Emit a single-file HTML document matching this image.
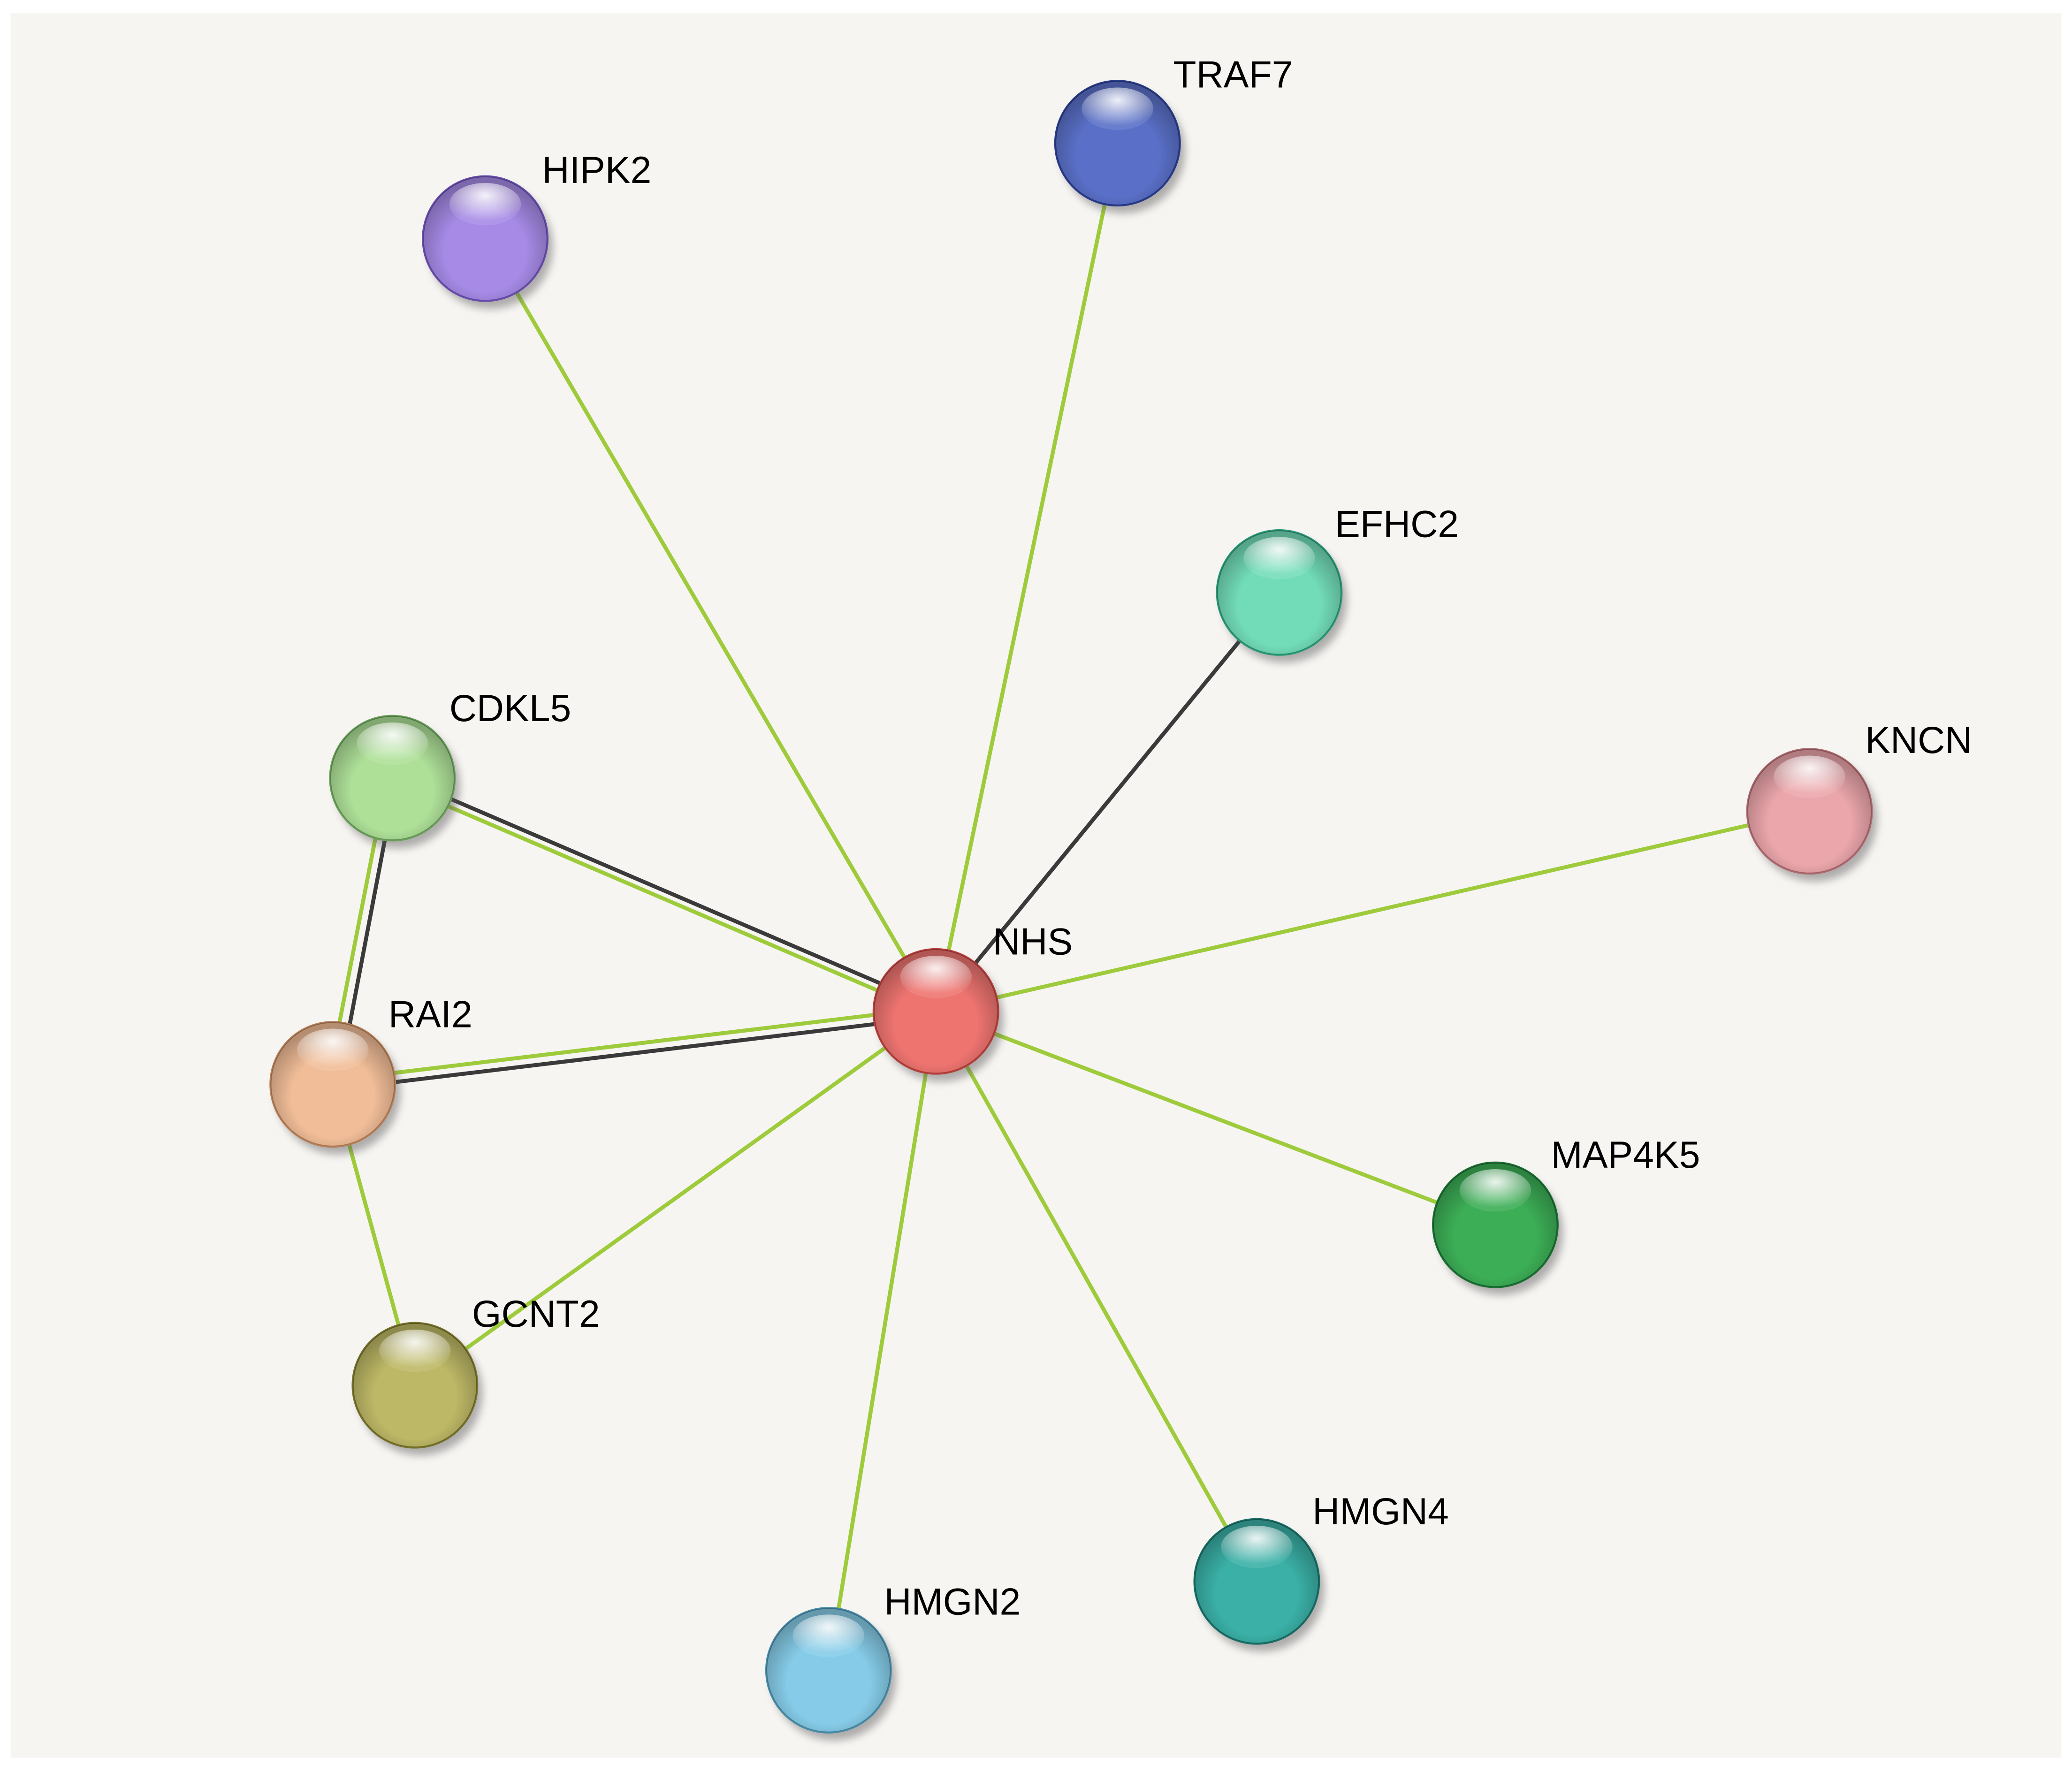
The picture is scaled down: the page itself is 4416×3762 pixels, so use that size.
<!DOCTYPE html>
<html><head><meta charset="utf-8"><style>
html,body{margin:0;padding:0;background:#fff;}
svg{display:block;}
text{font-family:"Liberation Sans",sans-serif;font-size:28.5px;fill:#000;}
</style></head><body>
<svg width="4416" height="3762" viewBox="0 0 1563 1331.5" preserveAspectRatio="none" xmlns="http://www.w3.org/2000/svg">
<defs>
<radialGradient id="hl" cx="50%" cy="30%" r="60%"><stop offset="0" stop-color="#fff" stop-opacity="0.9"/><stop offset="1" stop-color="#fff" stop-opacity="0.1"/></radialGradient>
<radialGradient id="dk" cx="50%" cy="60%" r="55%"><stop offset="0.6" stop-color="#000" stop-opacity="0"/><stop offset="1" stop-color="#000" stop-opacity="0.25"/></radialGradient>
<filter id="sh" x="-30%" y="-30%" width="170%" height="170%"><feGaussianBlur stdDeviation="3"/></filter>
</defs>
<rect x="0" y="0" width="1563" height="1331.5" fill="#fff"/>
<rect x="8" y="10" width="1547" height="1316" fill="#f7f5f2"/>
<g stroke-width="3" fill="none">
<line x1="706" y1="763" x2="366" y2="180" stroke="#9ecb3c"/>
<line x1="706" y1="763" x2="843" y2="108" stroke="#9ecb3c"/>
<line x1="706" y1="763" x2="965" y2="447" stroke="#3a3a3a"/>
<line x1="706" y1="763" x2="1365" y2="612" stroke="#9ecb3c"/>
<line x1="706" y1="763" x2="1128" y2="924" stroke="#9ecb3c"/>
<line x1="706" y1="763" x2="948" y2="1193" stroke="#9ecb3c"/>
<line x1="706" y1="763" x2="625" y2="1260" stroke="#9ecb3c"/>
<line x1="706" y1="763" x2="313" y2="1045" stroke="#9ecb3c"/>
<line x1="251" y1="818" x2="313" y2="1045" stroke="#9ecb3c"/>
<line x1="704" y1="759" x2="294" y2="583" stroke="#3a3a3a"/>
<line x1="708" y1="767" x2="298" y2="591" stroke="#9ecb3c"/>
<line x1="706" y1="760" x2="251" y2="815" stroke="#9ecb3c"/>
<line x1="706" y1="767" x2="251" y2="822" stroke="#3a3a3a"/>
<line x1="292" y1="587" x2="247" y2="818" stroke="#9ecb3c"/>
<line x1="299" y1="588" x2="255" y2="819" stroke="#3a3a3a"/>
</g>
<g id="nodes">
<g transform="translate(706,763)"><circle cx="4" cy="6" r="47" fill="#555" opacity="0.45" filter="url(#sh)"/><circle r="47" fill="#ee7470" stroke="#b8403c" stroke-width="1.5"/><circle r="47" fill="url(#dk)"/><ellipse cy="-26" rx="27" ry="16" fill="url(#hl)"/></g>
<g transform="translate(366,180)"><circle cx="4" cy="6" r="47" fill="#555" opacity="0.45" filter="url(#sh)"/><circle r="47" fill="#a68ae6" stroke="#6a4fb0" stroke-width="1.5"/><circle r="47" fill="url(#dk)"/><ellipse cy="-26" rx="27" ry="16" fill="url(#hl)"/></g>
<g transform="translate(843,108)"><circle cx="4" cy="6" r="47" fill="#555" opacity="0.45" filter="url(#sh)"/><circle r="47" fill="#5a70c8" stroke="#2a3c8c" stroke-width="1.5"/><circle r="47" fill="url(#dk)"/><ellipse cy="-26" rx="27" ry="16" fill="url(#hl)"/></g>
<g transform="translate(965,447)"><circle cx="4" cy="6" r="47" fill="#555" opacity="0.45" filter="url(#sh)"/><circle r="47" fill="#72dcb8" stroke="#2a9a78" stroke-width="1.5"/><circle r="47" fill="url(#dk)"/><ellipse cy="-26" rx="27" ry="16" fill="url(#hl)"/></g>
<g transform="translate(1365,612)"><circle cx="4" cy="6" r="47" fill="#555" opacity="0.45" filter="url(#sh)"/><circle r="47" fill="#eba6ab" stroke="#b06a70" stroke-width="1.5"/><circle r="47" fill="url(#dk)"/><ellipse cy="-26" rx="27" ry="16" fill="url(#hl)"/></g>
<g transform="translate(296,587)"><circle cx="4" cy="6" r="47" fill="#555" opacity="0.45" filter="url(#sh)"/><circle r="47" fill="#aee098" stroke="#6aa05a" stroke-width="1.5"/><circle r="47" fill="url(#dk)"/><ellipse cy="-26" rx="27" ry="16" fill="url(#hl)"/></g>
<g transform="translate(251,818)"><circle cx="4" cy="6" r="47" fill="#555" opacity="0.45" filter="url(#sh)"/><circle r="47" fill="#f1bd98" stroke="#b88058" stroke-width="1.5"/><circle r="47" fill="url(#dk)"/><ellipse cy="-26" rx="27" ry="16" fill="url(#hl)"/></g>
<g transform="translate(313,1045)"><circle cx="4" cy="6" r="47" fill="#555" opacity="0.45" filter="url(#sh)"/><circle r="47" fill="#bdb866" stroke="#77732a" stroke-width="1.5"/><circle r="47" fill="url(#dk)"/><ellipse cy="-26" rx="27" ry="16" fill="url(#hl)"/></g>
<g transform="translate(1128,924)"><circle cx="4" cy="6" r="47" fill="#555" opacity="0.45" filter="url(#sh)"/><circle r="47" fill="#3cae56" stroke="#1a7032" stroke-width="1.5"/><circle r="47" fill="url(#dk)"/><ellipse cy="-26" rx="27" ry="16" fill="url(#hl)"/></g>
<g transform="translate(948,1193)"><circle cx="4" cy="6" r="47" fill="#555" opacity="0.45" filter="url(#sh)"/><circle r="47" fill="#3ab0a6" stroke="#1a7068" stroke-width="1.5"/><circle r="47" fill="url(#dk)"/><ellipse cy="-26" rx="27" ry="16" fill="url(#hl)"/></g>
<g transform="translate(625,1260)"><circle cx="4" cy="6" r="47" fill="#555" opacity="0.45" filter="url(#sh)"/><circle r="47" fill="#86cce8" stroke="#4a8eaa" stroke-width="1.5"/><circle r="47" fill="url(#dk)"/><ellipse cy="-26" rx="27" ry="16" fill="url(#hl)"/></g>
</g>
<g>
<text x="749" y="720">NHS</text>
<text x="409" y="138">HIPK2</text>
<text x="885" y="66">TRAF7</text>
<text x="1007" y="405">EFHC2</text>
<text x="1407" y="568">KNCN</text>
<text x="339" y="544">CDKL5</text>
<text x="293" y="775">RAI2</text>
<text x="356" y="1001">GCNT2</text>
<text x="1170" y="881">MAP4K5</text>
<text x="990" y="1150">HMGN4</text>
<text x="667" y="1218">HMGN2</text>
</g>
</svg>
</body></html>
